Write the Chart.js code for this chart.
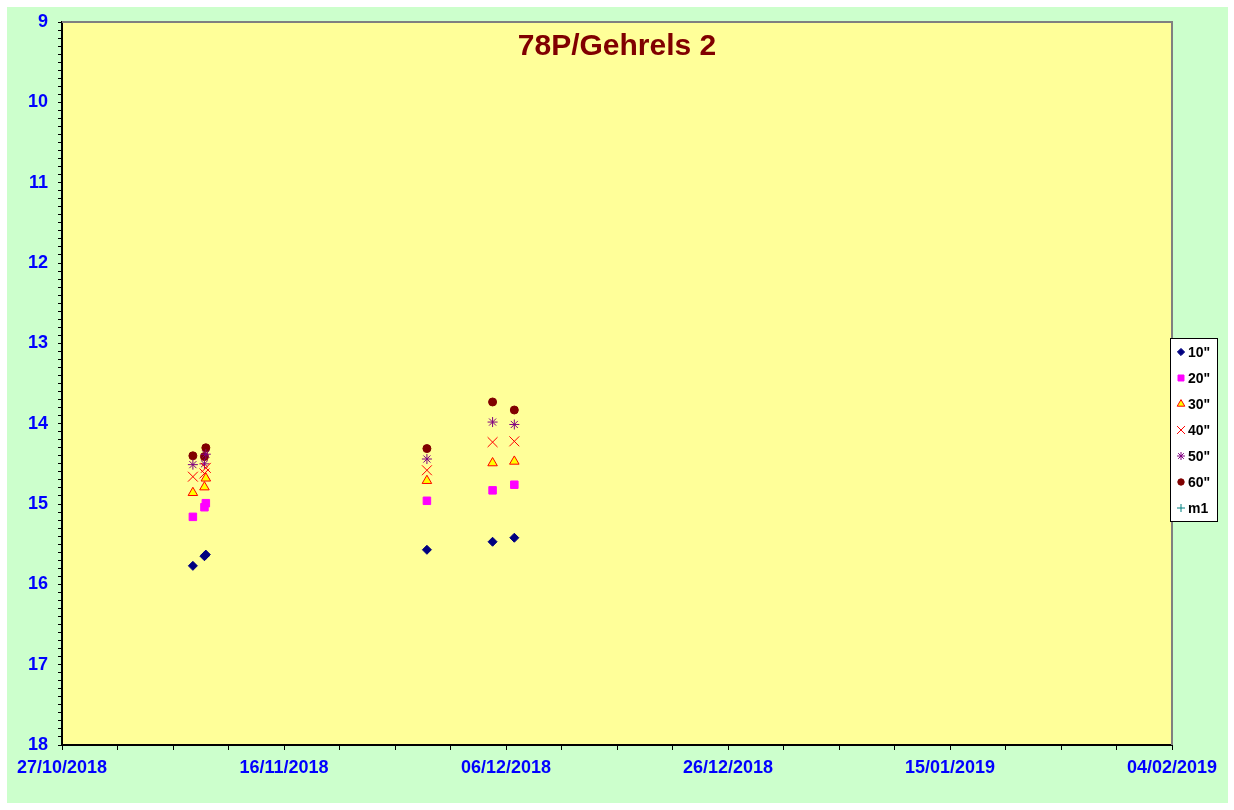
<!DOCTYPE html>
<html><head><meta charset="utf-8">
<script src="https://cdn.jsdelivr.net/npm/chart.js@4"></script>
<style>
html,body{margin:0;padding:0;background:#fff;}
#wrap{position:absolute;left:7px;top:7px;width:1221px;height:796px;background:#CCFFCC;}
canvas{display:block;}
</style></head><body>
<div id="wrap"><canvas id="c" width="1221" height="796"></canvas></div>
<script>
// ---- data ----
const chartTitle = '78P/Gehrels 2';
const seriesNames = ['10"', '20"', '30"', '40"', '50"', '60"', 'm1'];
const obsDates = ['2018-11-07T19:00', '2018-11-08T20:00', '2018-11-08T23:00', '2018-11-28T21:00', '2018-12-04T19:00', '2018-12-06T18:00'];
const mag10 = [15.77, 15.65, 15.63, 15.57, 15.47, 15.42];
const mag20 = [15.16, 15.04, 14.99, 14.96, 14.83, 14.76];
const mag30 = [14.86, 14.79, 14.68, 14.71, 14.49, 14.47];
const mag40 = [14.66, 14.62, 14.55, 14.58, 14.23, 14.22];
const mag50 = [14.51, 14.50, 14.38, 14.44, 13.98, 14.01];
const mag60 = [14.40, 14.41, 14.30, 14.31, 13.73, 13.83];
const m1 = [];
const xStartDate = '2018-10-27';
const xEndDate = '2019-02-04';
const xMajorStepDays = 20;
const xMinorStepDays = 5;
const yMin = 9, yMax = 18, yMinorStep = 0.1;

// ---- helpers ----
const DAY = 86400000;
const origin = Date.parse(xStartDate + 'T00:00:00Z');
const toDays = s => (Date.parse((s.length > 10 ? s : s + 'T00:00') + ':00Z') - origin) / DAY;
const xMax = toDays(xEndDate);
const xs = obsDates.map(toDays);
const pts = arr => arr.map((v, i) => ({x: xs[i], y: v}));
const fmtDate = d => {
  const t = new Date(origin + Math.round(d) * DAY);
  const p = n => String(n).padStart(2, '0');
  return p(t.getUTCDate()) + '/' + p(t.getUTCMonth() + 1) + '/' + t.getUTCFullYear();
};

const FONT = "'Liberation Sans', Arial, sans-serif";

const styles = [
  {pointStyle: 'rectRot', radius: 4.5, backgroundColor: '#000080', borderColor: '#000080', borderWidth: 1},
  {pointStyle: 'rect', radius: 5.3, backgroundColor: '#FF00FF', borderColor: '#FF00FF', borderWidth: 1},
  {pointStyle: 'triangle', radius: 5.5, backgroundColor: '#FFFF00', borderColor: '#FF0000', borderWidth: 1},
  {pointStyle: 'crossRot', radius: 7, backgroundColor: '#FF0000', borderColor: '#FF0000', borderWidth: 1},
  {pointStyle: 'star', radius: 5, backgroundColor: '#800080', borderColor: '#800080', borderWidth: 1},
  {pointStyle: 'circle', radius: 4, backgroundColor: '#800000', borderColor: '#800000', borderWidth: 1},
  {pointStyle: 'cross', radius: 5, backgroundColor: '#008080', borderColor: '#008080', borderWidth: 1}
];
const seriesData = [mag10, mag20, mag30, mag40, mag50, mag60, m1];

const datasets = seriesData.map((arr, i) => ({
  label: seriesNames[i],
  data: pts(arr),
  showLine: false,
  pointStyle: styles[i].pointStyle,
  pointRadius: styles[i].radius,
  pointHoverRadius: styles[i].radius,
  pointBackgroundColor: styles[i].backgroundColor,
  pointBorderColor: styles[i].borderColor,
  pointBorderWidth: styles[i].borderWidth,
  backgroundColor: styles[i].backgroundColor,
  borderColor: styles[i].borderColor
}));

const framePlugin = {
  id: 'frame',
  beforeDraw(chart) {
    const {ctx, chartArea: a} = chart;
    ctx.save();
    ctx.fillStyle = '#FFFF99';
    ctx.fillRect(a.left, a.top, a.right - a.left, a.bottom - a.top);
    ctx.restore();
  },
  beforeDatasetsDraw(chart) {
    const {ctx, chartArea: a} = chart;
    ctx.save();
    ctx.strokeStyle = '#808080';
    ctx.lineWidth = 2;
    ctx.beginPath();
    ctx.moveTo(a.left, a.top);
    ctx.lineTo(a.right, a.top);
    ctx.lineTo(a.right, a.bottom);
    ctx.stroke();
    ctx.restore();
  },
  afterDatasetsDraw(chart) {
    const {ctx, chartArea: a} = chart;
    ctx.save();
    ctx.fillStyle = '#800000';
    ctx.font = 'bold 30px ' + FONT;
    ctx.textAlign = 'center';
    ctx.textBaseline = 'alphabetic';
    ctx.fillText(chartTitle, (a.left + a.right) / 2, a.top + 33);
    ctx.restore();
  },
  afterDraw(chart) {
    const ctx = chart.ctx;
    const bx = 1163, by = 331, bw = 47, bh = 183;
    ctx.save();
    ctx.fillStyle = '#FFFFFF';
    ctx.fillRect(bx, by, bw, bh);
    ctx.strokeStyle = '#000000';
    ctx.lineWidth = 1;
    ctx.strokeRect(bx + 0.5, by + 0.5, bw, bh);
    chart.data.datasets.forEach((ds, i) => {
      const y = by + 14 + i * 26;
      const st = styles[i];
      ctx.fillStyle = st.backgroundColor;
      ctx.strokeStyle = st.borderColor;
      ctx.lineWidth = st.borderWidth;
      const r = st.radius * 0.8;
      if (Chart.helpers && Chart.helpers.drawPoint) {
        Chart.helpers.drawPoint(ctx, {pointStyle: st.pointStyle, radius: r, borderWidth: st.borderWidth, rotation: 0}, bx + 11, y);
      }
      ctx.fillStyle = '#000000';
      ctx.font = 'bold 14px ' + FONT;
      ctx.textAlign = 'left';
      ctx.textBaseline = 'middle';
      ctx.fillText(ds.label, bx + 18, y + 1);
    });
    ctx.restore();
  }
};

new Chart(document.getElementById('c'), {
  type: 'scatter',
  data: {datasets},
  options: {
    responsive: false,
    devicePixelRatio: 1,
    animation: false,
    layout: {padding: {left: 0, right: 56, top: 15, bottom: 0}},
    plugins: {legend: {display: false}, title: {display: false}, tooltip: {enabled: false}},
    scales: {
      x: {
        type: 'linear',
        min: 0,
        max: xMax,
        afterFit(s) { s.height = 58; },
        grid: {drawOnChartArea: false, drawTicks: true, tickLength: 5, color: '#000000', lineWidth: 1},
        border: {display: true, color: '#000000', width: 2},
        ticks: {
          stepSize: xMinorStepDays,
          autoSkip: false,
          maxRotation: 0,
          padding: 7,
          color: '#0000FF',
          font: {family: FONT, size: 18, weight: 'bold'},
          callback: v => (Math.abs(v / xMajorStepDays - Math.round(v / xMajorStepDays)) < 1e-6 ? fmtDate(v) : '')
        }
      },
      y: {
        type: 'linear',
        reverse: true,
        min: yMin,
        max: yMax,
        afterFit(s) { s.width = 55; s.paddingTop = 0; s.paddingBottom = 0; },
        grid: {drawOnChartArea: false, drawTicks: true, tickLength: 4, color: '#000000', lineWidth: 1},
        border: {display: true, color: '#000000', width: 2},
        ticks: {
          stepSize: yMinorStep,
          autoSkip: false,
          padding: 10,
          color: '#0000FF',
          font: {family: FONT, size: 18, weight: 'bold'},
          callback: v => (Math.abs(v - Math.round(v)) < 1e-6 ? String(Math.round(v)) : '')
        }
      }
    }
  },
  plugins: [framePlugin]
});
</script>
</body></html>
